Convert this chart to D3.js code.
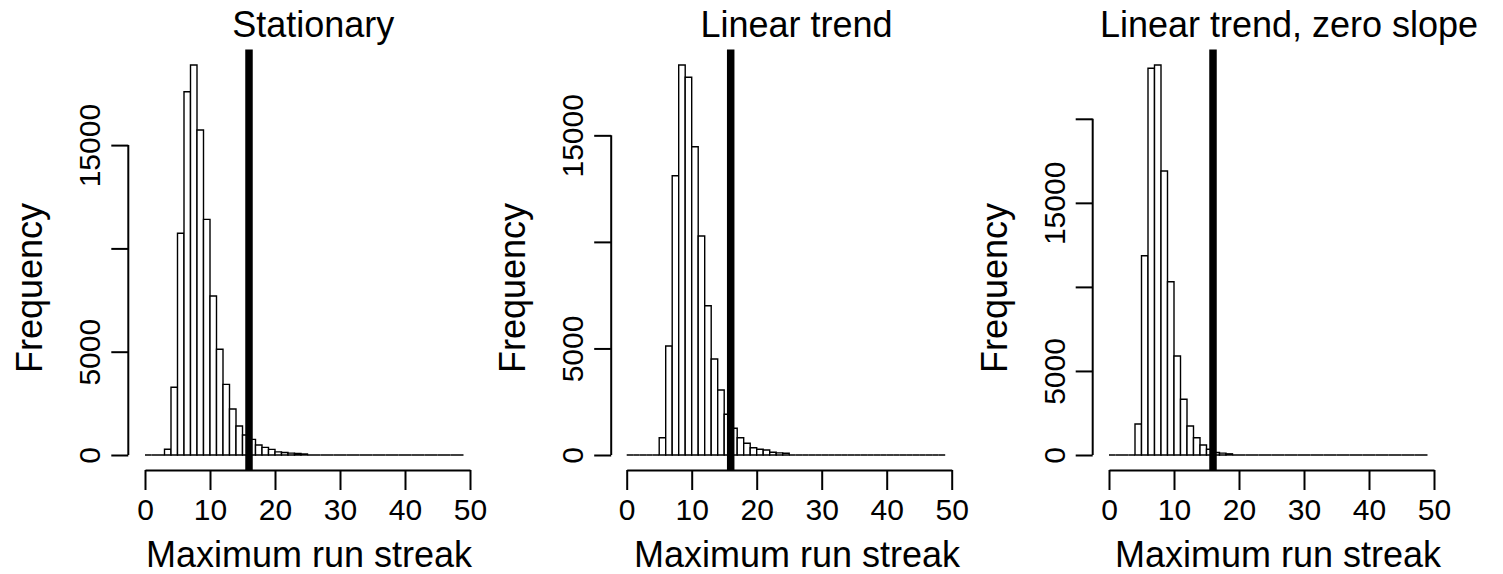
<!DOCTYPE html>
<html>
<head>
<meta charset="utf-8">
<script src="https://cdn.jsdelivr.net/npm/d3@7"></script>
<style>
  body { margin: 0; background: #fff; }
  svg { display: block; }
  text { font-family: "Liberation Sans", Arial, Helvetica, sans-serif; fill: #000; }
</style>
</head>
<body>
<svg id="chart" width="1503" height="574"></svg>
<script>
// ---------- data ----------
const panelTitles = ["Stationary", "Linear trend", "Linear trend, zero slope"];
const xLabel = "Maximum run streak";
const yLabel = "Frequency";
const binStart = 0;
const binWidth = 1;
const observedStreak = 16;

// counts per unit bin [0,1), [1,2), ... [48,49)
const countsStationary = [
  0, 0, 0, 275, 3277, 10730, 17585, 18877, 15730, 11407,
  7696, 5115, 3420, 2226, 1403, 968, 758, 484, 371, 274,
  150, 120, 90, 70, 50, 0, 0, 0, 0, 0,
  0, 0, 0, 0, 0, 0, 0, 0, 0, 0,
  0, 0, 0, 0, 0, 0, 0, 0, 0
];
const countsLinear = [
  0, 0, 0, 0, 0, 812, 5115, 13106, 18300, 17722,
  14467, 10276, 7006, 4505, 3050, 1910, 1253, 812, 549, 343,
  267, 235, 127, 100, 80, 0, 0, 0, 0, 0,
  0, 0, 0, 0, 0, 0, 0, 0, 0, 0,
  0, 0, 0, 0, 0, 0, 0, 0, 0
];
const countsZeroSlope = [
  0, 0, 0, 0, 1844, 11856, 23004, 23200, 16895, 10310,
  5890, 3314, 1725, 1029, 595, 339, 150, 110, 70, 0,
  0, 0, 0, 0, 0, 0, 0, 0, 0, 0,
  0, 0, 0, 0, 0, 0, 0, 0, 0, 0,
  0, 0, 0, 0, 0, 0, 0, 0, 0
];

const xTicks = [0, 10, 20, 30, 40, 50];
const yTicksStationary = [0, 5000, 10000, 15000];
const yTicksLinear = [0, 5000, 10000, 15000];
const yTicksZeroSlope = [0, 5000, 10000, 15000, 20000];
const yTickLabelsShown = [0, 5000, 15000];

// ---------- layout ----------
const panels = [
  { title: panelTitles[0], counts: countsStationary, yTicks: yTicksStationary,
    x0: 145, yAxisX: 128.3, titleX: 313.3, xlabX: 309 },
  { title: panelTitles[1], counts: countsLinear, yTicks: yTicksLinear,
    x0: 626.7, yAxisX: 611.2, titleX: 796.5, xlabX: 797 },
  { title: panelTitles[2], counts: countsZeroSlope, yTicks: yTicksZeroSlope,
    x0: 1109, yAxisX: 1092.7, titleX: 1289, xlabX: 1278 }
];
const xSpan = 325;          // pixels for 0..50
const yBase = 455, yPeak = 65;
const plotTop = 49.4, plotBottom = 470.6;
const xAxisY = 470;

const svg = d3.select("#chart");

panels.forEach(p => {
  const g = svg.append("g");
  const x = d3.scaleLinear().domain([0, 50]).range([p.x0, p.x0 + xSpan]);
  const y = d3.scaleLinear().domain([0, d3.max(p.counts)]).range([yBase, yPeak]);

  // bars (paths so zero-height bins still draw as baseline)
  g.append("g").selectAll("path")
    .data(p.counts)
    .join("path")
    .attr("d", (c, i) => {
      const xa = x(binStart + i * binWidth), xb = x(binStart + (i + 1) * binWidth);
      const ya = y(0), yb = y(c);
      return `M${xa},${ya}V${yb}H${xb}V${ya}Z`;
    })
    .attr("fill", "#fff")
    .attr("stroke", "#000")
    .attr("stroke-width", 1.4);

  // observed value line
  g.append("line")
    .attr("x1", x(observedStreak)).attr("x2", x(observedStreak))
    .attr("y1", plotTop).attr("y2", plotBottom)
    .attr("stroke", "#000").attr("stroke-width", 7.5);

  // x axis
  const xa = g.append("g")
    .attr("transform", `translate(0,${xAxisY})`)
    .call(d3.axisBottom(x).tickValues(xTicks).tickSize(20).tickSizeOuter(0));
  xa.select(".domain").attr("stroke", "#000").attr("stroke-width", 2);
  xa.selectAll(".tick line").attr("stroke", "#000").attr("stroke-width", 2);
  xa.selectAll(".tick text")
    .attr("y", 50).attr("dy", 0)
    .attr("font-size", 30)
    .attr("font-family", "Liberation Sans, Arial, sans-serif")
    .attr("fill", "#000");

  // y axis
  const ya = g.append("g")
    .attr("transform", `translate(${p.yAxisX},0)`)
    .call(d3.axisLeft(y).tickValues(p.yTicks).tickSize(17)
      .tickFormat(d => yTickLabelsShown.includes(d) ? String(d) : ""));
  ya.select(".domain").remove();
  ya.append("line")
    .attr("x1", 0).attr("x2", 0)
    .attr("y1", y(0)).attr("y2", y(d3.max(p.yTicks)))
    .attr("stroke", "#000").attr("stroke-width", 2);
  ya.selectAll(".tick line").attr("stroke", "#000").attr("stroke-width", 2);
  ya.selectAll(".tick text")
    .attr("x", 0).attr("dy", 0)
    .attr("transform", "translate(-28,0) rotate(-90)")
    .attr("text-anchor", "middle")
    .attr("font-size", 30)
    .attr("font-family", "Liberation Sans, Arial, sans-serif")
    .attr("fill", "#000");

  // titles & labels
  g.append("text")
    .attr("x", p.titleX).attr("y", 37)
    .attr("text-anchor", "middle")
    .attr("font-size", 36)
    .text(p.title);
  g.append("text")
    .attr("x", p.xlabX).attr("y", 566.5)
    .attr("text-anchor", "middle")
    .attr("font-size", 36)
    .text(xLabel);
  g.append("text")
    .attr("transform", `translate(${p.yAxisX - 86},288) rotate(-90)`)
    .attr("text-anchor", "middle")
    .attr("font-size", 36)
    .text(yLabel);
});
</script>
</body>
</html>
